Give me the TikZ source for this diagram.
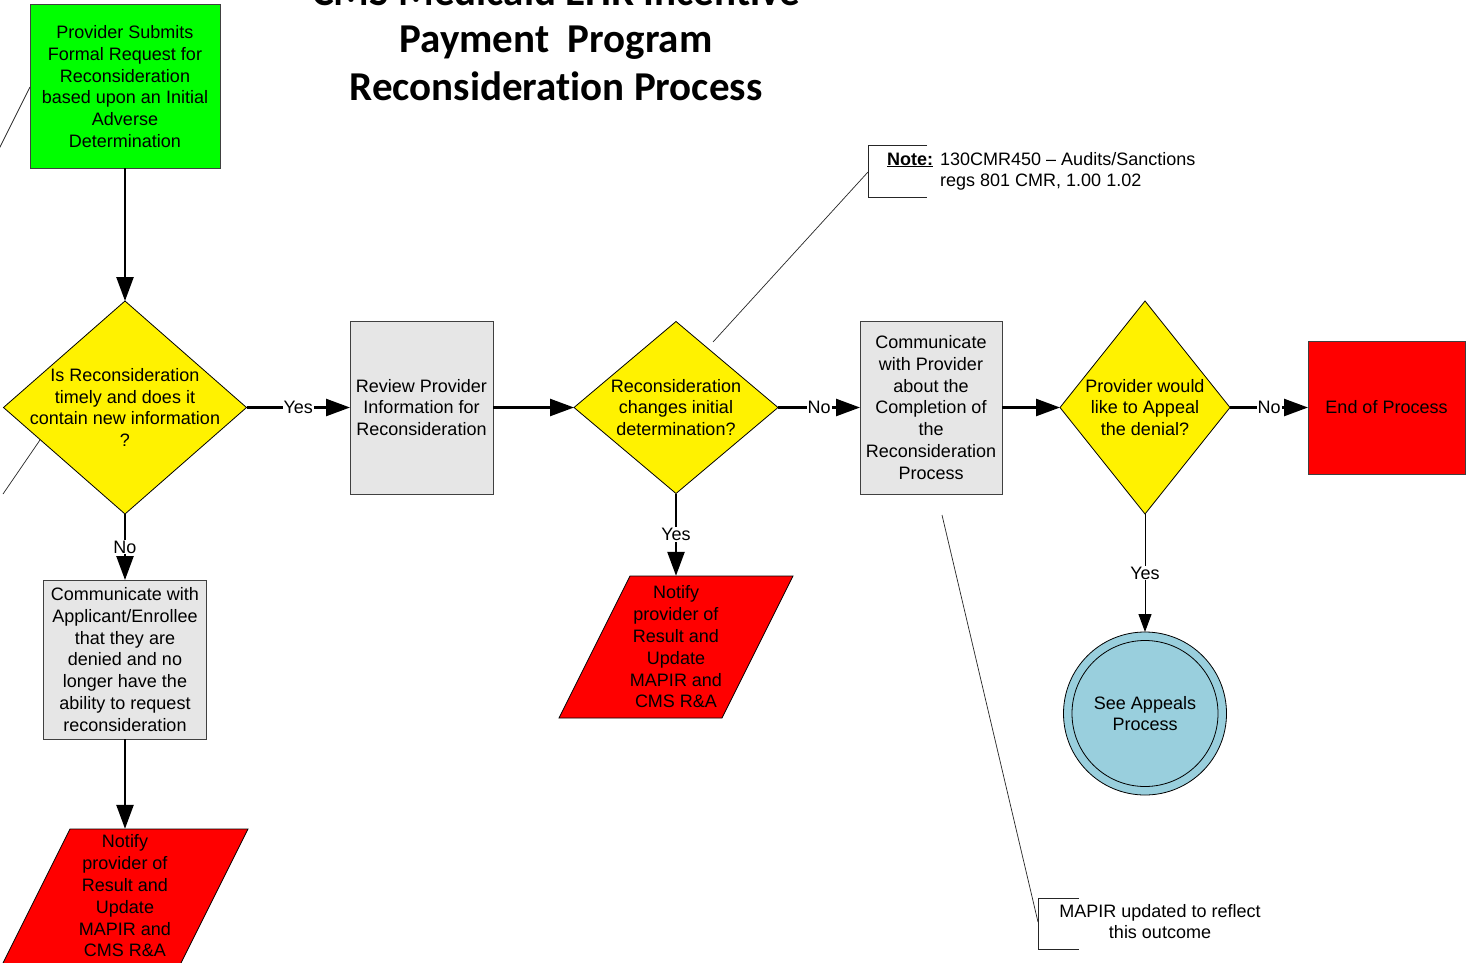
\documentclass[tikz,border=0pt]{standalone}
\usepackage{fontspec}
\setmainfont{Liberation Sans}
\newfontfamily\titlefont[Ligatures={NoCommon}]{Carlito}
\usetikzlibrary{arrows.meta,shapes.geometric}
\definecolor{boxgray}{HTML}{E6E6E6}
\definecolor{circblue}{HTML}{99CFDD}
\definecolor{brd}{HTML}{404040}
\begin{document}
\begin{tikzpicture}[x=1pt,y=-1pt,
  txt/.style={font=\fontsize{18}{21.8}\selectfont, align=center, inner sep=0pt},
  box/.style={txt, draw=brd, line width=1pt, rectangle, outer sep=0pt},
  dia/.style={shape=diamond, draw=black, line width=0.8pt, fill=yellow, inner sep=0pt, outer sep=0pt},
  thickarrow/.style={line width=2.5pt, -{Triangle[length=24pt,width=17pt]}},
  thinarrow/.style={line width=1pt, -{Triangle[length=18pt,width=13pt]}},
  lab/.style={txt, fill=white, inner sep=1pt},
  callout/.style={line width=0.7pt, draw=black!85},
  titlef/.style={font=\titlefont\bfseries\fontsize{41}{48}\selectfont, inner sep=0pt}]
\useasboundingbox (0,0) rectangle (1466,963);
\clip (0,0) rectangle (1466,963);
\fill[white] (0,0) rectangle (1466,963);

% title
\node[titlef, anchor=base] (t1) at (556,5.5) {CMS Medicaid EHR Incentive};
\node[titlef, anchor=base] (t2) at (556,53) {Payment\ \ Program};
\node[titlef, anchor=base] (t3) at (556,101) {Reconsideration Process};

% nodes
\node[box, fill=green, minimum width=190pt, minimum height=163pt] (start) at (125,86.5)
  {Provider Submits\\Formal Request for\\Reconsideration\\based upon an Initial\\Adverse\\Determination};
\node[dia, minimum width=243pt, minimum height=213pt,
  label={[txt]center:Is Reconsideration\\timely and does it\\contain new information\\?}] (d1) at (125,407.5) {};
\node[box, fill=boxgray, minimum width=143pt, minimum height=173pt] (review) at (421.5,407.5)
  {Review Provider\\Information for\\Reconsideration};
\node[dia, minimum width=204pt, minimum height=172pt,
  label={[txt]center:Reconsideration\\changes initial\\determination?}] (d2) at (676,407.5) {};
\node[box, fill=boxgray, minimum width=142pt, minimum height=173pt] (comm) at (931,407.5)
  {Communicate\\with Provider\\about the\\Completion of\\the\\Reconsideration\\Process};
\node[dia, minimum width=170pt, minimum height=213pt,
  label={[txt]center:Provider would\\like to Appeal\\the denial?}] (d3) at (1145,407.5) {};
\node[box, fill=red, minimum width=157pt, minimum height=133pt] (end) at (1386.5,407.5) {End of Process};
\node[circle, draw=black, line width=0.8pt, fill=circblue, minimum size=163pt, inner sep=0pt, outer sep=0pt,
  txt] (appeal) at (1145,713.5) {See Appeals\\Process};
\draw[line width=0.8pt] (appeal.center) circle[radius=73pt];
\node[box, fill=boxgray, minimum width=163pt, minimum height=159pt] (deny) at (125,659.5)
  {Communicate with\\Applicant/Enrollee\\that they are\\denied and no\\longer have the\\ability to request\\reconsideration};

% parallelograms
\filldraw[fill=red, draw=black, line width=0.8pt] (630,576) -- (793,576) -- (722,718) -- (559,718) -- cycle;
\node[txt, minimum height=142pt, minimum width=100pt] (notify2) at (676,647)
  {Notify\\provider of\\Result and\\Update\\MAPIR and\\CMS R\&A};
\filldraw[fill=red, draw=black, line width=0.8pt] (70,829) -- (248,829) -- (177,971) -- (-1,971) -- cycle;
\node[txt, minimum height=134pt, minimum width=100pt] (notify1) at (125,896)
  {Notify\\provider of\\Result and\\Update\\MAPIR and\\CMS R\&A};

% connectors
\draw[thickarrow] (start.south) -- (d1.north);
\draw[thickarrow] (d1.east) -- node[lab]{Yes} (review.west);
\draw[thickarrow] (review.east) -- (d2.west);
\draw[thickarrow] (d2.east) -- node[lab]{No} (comm.west);
\draw[thickarrow] (comm.east) -- (d3.west);
\draw[thickarrow] (d3.east) -- node[lab]{No} (end.west);
\draw[thinarrow] (d3.south) -- node[lab]{Yes} (appeal.north);
\draw[thickarrow] (d2.south) -- node[lab]{Yes} (notify2.north);
\draw[thickarrow] (d1.south) -- node[lab]{No} (deny.north);
\draw[thickarrow] (deny.south) -- (notify1.north);

% note callout
\coordinate (noteTL) at (927,145);
\coordinate (noteBL) at (927,197);
\coordinate (notefoot) at (868,172);
\coordinate (notepin) at (713,342);
\draw[callout] (noteTL) -- (868,145) -- (868,197) -- (noteBL);
\draw[callout] (notefoot) -- (notepin);
\node[anchor=base west, inner sep=0pt, font=\fontsize{18}{21.8}\selectfont] (note) at (887,165)
  {\begin{tabular}[t]{@{}l@{\hspace{7pt}}l@{}}\underline{\textbf{Note:}} & 130CMR450 – Audits/Sanctions\\ & regs 801 CMR, 1.00 1.02\end{tabular}};

% MAPIR callout
\coordinate (mapTL) at (1079,898);
\coordinate (mapBL) at (1079,949);
\coordinate (mapfoot) at (1038,922);
\coordinate (mappin) at (942,515);
\draw[callout] (mapTL) -- (1038,898) -- (1038,949) -- (mapBL);
\draw[callout] (mapfoot) -- (mappin);
\node[txt] (mapir) at (1160,921.5) {MAPIR updated to reflect\\this outcome};

% off-picture callout lines
\coordinate (c1a) at (30,87);
\coordinate (c1b) at (-4,155);
\draw[callout] (c1a) -- (c1b);
\coordinate (c2a) at (40,440);
\coordinate (c2b) at (3,494);
\draw[callout] (c2a) -- (c2b);
\end{tikzpicture}
\end{document}
